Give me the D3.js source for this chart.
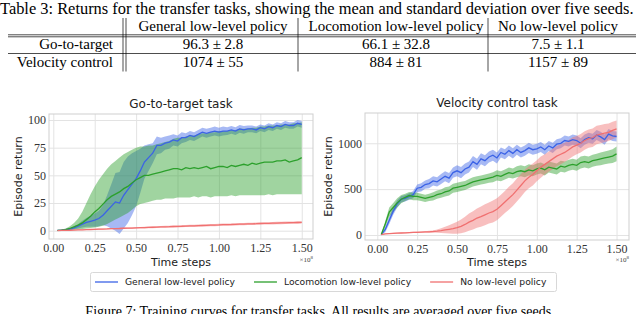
<!DOCTYPE html>
<html>
<head>
<meta charset="utf-8">
<script src="https://cdnjs.cloudflare.com/ajax/libs/d3/7.8.5/d3.min.js"></script>
<style>
body { margin:0; background:#fff; }
svg { display:block; }
.serif { font-family: "Liberation Serif", serif; }
.sans { font-family: "DejaVu Sans", sans-serif; }
</style>
</head>
<body>
<div id="chart-area"></div>
<script>
// Table 3 values
var tableCaption = "Table 3: Returns for the transfer tasks, showing the mean and standard deviation over five seeds.";
var policies = ["General low-level policy", "Locomotion low-level policy", "No low-level policy"];
var tasks = ["Go-to-target", "Velocity control"];
var tableValues = [
	["96.3 \u00b1 2.8", "66.1 \u00b1 32.8", "7.5 \u00b1 1.1"],
	["1074 \u00b1 55", "884 \u00b1 81", "1157 \u00b1 89"]
];

// training steps (x 1e8)
var steps = [0.025,0.05,0.075,0.1,0.125,0.15,0.175,0.2,0.225,0.25,
	0.275,0.3,0.325,0.35,0.375,0.4,0.425,0.45,0.475,0.5,
	0.525,0.55,0.575,0.6,0.625,0.65,0.675,0.7,0.725,0.75,
	0.775,0.8,0.825,0.85,0.875,0.9,0.925,0.95,0.975,1.0,
	1.025,1.05,1.075,1.1,1.125,1.15,1.175,1.2,1.225,1.25,
	1.275,1.3,1.325,1.35,1.375,1.4,1.425,1.45,1.475,1.5];

// Go-to-target task
var gttGeneral = [0.3,0.5,1.0,1.5,2.5,4,6,7.5,8.5,9.5,
	11,14,18,22,26,25,32,37,42,47,
	54,62,66,70,77,77,79,80,82,81,
	84,84,86,85,87,89,88,89,90,89,
	90,90,91,90,92,91,92,92,91,93,
	92,94,93,95,94,96,95,95,97,96];
var gttGeneralStd = [0.3,0.5,0.7,1,1.5,2,3,4,5,6,
	7,9,14,20,26,28,30,30,28,25,
	20,15,12,9,8,7,6,6,5,5,
	5,4,4,4,4,4,4,4,4,4,
	4,3.5,3.5,3.5,3.5,3.5,3,3,3,3,
	3,3,3,3,3,3,3,3,3,3];
var gttLoco = [0.3,0.5,1,2,3.5,5,7,10,13,17,
	20,24,28,31,33,35,38,40,43,46,
	48,50,50,51,52,53,54,55,56,56,
	55,57,56,57,56,57,58,56,57,58,
	58,57,59,58,59,60,59,61,60,61,
	62,62,62,63,63,64,62,63,64,66];
// the locomotion band is lopsided, so keep its edges
var gttLocoLow = [0,0,0.3,0.5,0.8,1,1.5,2,2.5,3,
	3.5,4.5,6,8,10,12,14,16,19,22,
	24,25,26,27,28,28,29,29,29,30,
	30,30,30,31,30,31,31,30,31,31,
	31,31,32,31,32,32,32,32,32,32,
	32,33,32,33,33,33,33,33,33,33];
var gttLocoHigh = [0.6,1,2,4,7,11,17,25,33,40,
	46,51,56,60,63,66,69,71,73,75,
	76,76,77,77,78,79,80,81,83,84,
	84,85,86,86,87,88,88,89,89,90,
	90,90,91,91,92,92,92,93,93,94,
	94,95,95,95,96,96,96,97,97,98];
var gttNone = [0.1,0.2,0.3,0.4,0.6,0.7,0.8,1.0,1.1,1.2,
	1.4,1.5,1.6,1.8,1.9,2.0,2.2,2.3,2.4,2.6,
	2.7,2.8,3.0,3.1,3.2,3.4,3.5,3.6,3.8,3.9,
	4.0,4.2,4.3,4.4,4.6,4.7,4.8,5.0,5.1,5.2,
	5.4,5.5,5.6,5.8,5.9,6.0,6.1,6.2,6.3,6.5,
	6.6,6.7,6.8,6.9,7.0,7.1,7.2,7.3,7.4,7.5];
var gttNoneStd = [0.1,0.2,0.2,0.3,0.3,0.3,0.4,0.4,0.4,0.5,
	0.5,0.5,0.6,0.6,0.6,0.6,0.7,0.7,0.7,0.7,
	0.7,0.8,0.8,0.8,0.8,0.8,0.9,0.9,0.9,0.9,
	0.9,0.9,1,1,1,1,1,1,1,1,
	1,1,1,1,1,1,1,1,1,1,
	1,1,1.1,1.1,1.1,1.1,1.1,1.1,1.1,1.1];

// Velocity control task
var velGeneral = [5,60,160,260,340,390,400,420,440,510,
	520,550,560,590,580,610,640,620,680,700,
	680,720,740,800,770,830,810,850,870,840,
	900,880,920,890,930,900,920,950,930,940,
	960,930,970,950,990,1000,1030,1020,1040,1030,
	1000,1040,1060,1050,1090,1070,1040,1100,1080,1074];
var velGeneralStd = [3,30,40,40,40,35,35,35,40,40,
	45,45,50,50,50,55,55,55,55,60,
	60,60,60,60,60,60,60,60,60,60,
	55,55,55,55,55,55,55,55,55,55,
	55,55,55,55,55,55,55,55,55,55,
	55,55,55,55,55,55,55,55,55,55];
var velLoco = [5,120,250,300,350,390,410,430,420,420,
	410,400,410,420,440,450,470,480,510,520,
	530,540,560,580,590,600,610,620,630,650,
	640,660,680,670,690,700,690,710,700,720,
	730,710,740,730,720,750,740,760,770,760,
	790,800,790,810,820,830,840,850,860,884];
var velLocoStd = [3,30,50,50,50,45,40,40,40,40,
	40,40,40,45,45,45,50,50,50,50,
	50,50,50,50,50,50,50,50,55,55,
	55,55,55,55,60,60,60,60,60,60,
	60,60,60,60,60,60,60,60,60,60,
	65,65,65,65,65,70,70,70,75,80];
var velNone = [5,12,15,18,20,22,24,26,28,29,
	31,33,35,38,42,48,55,62,70,80,
	95,115,140,160,185,200,220,240,255,280,
	320,360,400,440,490,540,590,630,660,700,
	740,770,800,830,860,880,900,930,960,980,
	1000,1030,1050,1060,1090,1100,1110,1120,1140,1157];
var velNoneStd = [3,5,5,6,6,6,7,7,7,8,
	8,9,10,12,18,25,35,45,55,65,
	75,85,95,100,105,110,115,115,120,120,
	120,120,125,125,125,125,120,120,120,115,
	115,110,110,110,110,110,105,105,105,100,
	100,100,100,100,100,100,100,95,95,90];

var xTicks = [0, 0.25, 0.5, 0.75, 1.0, 1.25, 1.5];
var gttTicks = [0, 25, 50, 75, 100];
var velTicks = [0, 500, 1000];

var colors = ["#3b63e6", "#2ca02c", "#f07070"];

var svg = d3.select("#chart-area")
	.append("svg")
		.attr("width", 640)
		.attr("height", 314);

// ---- table ----
var cap = svg.append("text")
	.attr("class", "serif")
	.attr("x", 0)
	.attr("y", 13.6)
	.style("font-size", "14.5px")
	.attr("fill", "#000")
	.text(tableCaption);
var capW = cap.node().getComputedTextLength();
cap.style("font-size", (14.5 * 634 / capW) + "px");

var colX = [213, 396, 558];
var rowY = [48.5, 66.5];
var tbl = svg.append("g")
	.attr("class", "serif")
	.style("font-size", "15px")
	.attr("fill", "#000");

tbl.selectAll(".hdr").data(policies).enter().append("text")
	.attr("x", function(d, i){ return colX[i]; })
	.attr("y", 30.5)
	.attr("text-anchor", "middle")
	.text(function(d){ return d; });

tbl.selectAll(".task").data(tasks).enter().append("text")
	.attr("x", 113)
	.attr("y", function(d, i){ return rowY[i]; })
	.attr("text-anchor", "end")
	.text(function(d){ return d; });

tableValues.forEach(function(row, r){
	tbl.selectAll(".v" + r).data(row).enter().append("text")
		.attr("x", function(d, i){ return colX[i]; })
		.attr("y", rowY[r])
		.attr("text-anchor", "middle")
		.text(function(d){ return d; });
});

var rule = "#000";
[123, 126, 298, 488].forEach(function(xv){
	svg.append("line").attr("x1", xv).attr("x2", xv).attr("y1", 18).attr("y2", 71.5)
		.attr("stroke", rule).attr("stroke-width", 0.7);
});
[34.8, 36.8, 53.5].forEach(function(yv){
	svg.append("line").attr("x1", 8).attr("x2", 636).attr("y1", yv).attr("y2", yv)
		.attr("stroke", rule).attr("stroke-width", 0.7);
});

// ---- panels ----
function drawPanel(cfg) {
	var x = d3.scaleLinear().domain(cfg.xDomain).range([cfg.left, cfg.right]);
	var y = d3.scaleLinear().domain(cfg.yDomain).range([cfg.bottom, cfg.top]);
	var g = svg.append("g");
	var h = cfg.bottom - cfg.top, w = cfg.right - cfg.left;

	var xAxisGroup = g.append("g")
		.attr("transform", "translate(0," + cfg.bottom + ")")
		.call(d3.axisBottom(x).tickValues(xTicks).tickSize(-h).tickPadding(4)
			.tickFormat(d3.format(".2f")));
	var yAxisGroup = g.append("g")
		.attr("transform", "translate(" + cfg.left + ",0)")
		.call(d3.axisLeft(y).tickValues(cfg.yTicks).tickSize(-w).tickPadding(3)
			.tickFormat(d3.format("d")));
	[xAxisGroup, yAxisGroup].forEach(function(a){
		a.attr("font-family", null).attr("font-size", null);
		a.select(".domain").remove();
		a.selectAll(".tick line").attr("stroke", "#e3e3e3").attr("stroke-width", 1);
		a.selectAll(".tick text")
			.attr("class", "serif")
			.style("font-size", "12px")
			.attr("fill", "#333");
	});

	var bands = g.append("g");
	var lines = g.append("g");
	cfg.series.forEach(function(s){
		var pts = steps.map(function(t, i){
			return {
				t: t, m: s.mean[i],
				lo: s.low ? s.low[i] : s.mean[i] - s.std[i],
				hi: s.high ? s.high[i] : s.mean[i] + s.std[i]
			};
		});
		var area = d3.area()
			.x(function(d){ return x(d.t); })
			.y0(function(d){ return y(d.lo); })
			.y1(function(d){ return y(d.hi); });
		bands.append("path")
			.attr("d", area(pts))
			.attr("fill", s.color)
			.attr("fill-opacity", 0.45);
		var line = d3.line()
			.x(function(d){ return x(d.t); })
			.y(function(d){ return y(d.m); });
		lines.append("path")
			.attr("d", line(pts))
			.attr("fill", "none")
			.attr("stroke", s.color)
			.attr("stroke-width", 1.3);
	});

	g.append("rect")
		.attr("x", cfg.left).attr("y", cfg.top)
		.attr("width", w).attr("height", h)
		.attr("fill", "none")
		.attr("stroke", "#cfcfcf")
		.attr("stroke-width", 1);

	g.append("text")
		.attr("class", "sans")
		.attr("x", (cfg.left + cfg.right) / 2)
		.attr("y", cfg.top - 6)
		.attr("text-anchor", "middle")
		.style("font-size", "12px")
		.attr("fill", "#222")
		.text(cfg.title);

	g.append("text")
		.attr("class", "sans")
		.attr("x", cfg.labelX)
		.attr("y", (cfg.top + cfg.bottom) / 2)
		.attr("transform", "rotate(-90," + cfg.labelX + "," + ((cfg.top + cfg.bottom) / 2) + ")")
		.attr("text-anchor", "middle")
		.attr("dominant-baseline", "central")
		.style("font-size", "11px")
		.attr("fill", "#222")
		.text("Episode return");

	g.append("text")
		.attr("class", "sans")
		.attr("x", (cfg.left + cfg.right) / 2)
		.attr("y", 266)
		.attr("text-anchor", "middle")
		.style("font-size", "11px")
		.attr("fill", "#222")
		.text("Time steps");

	var sc = g.append("text")
		.attr("class", "serif")
		.attr("x", cfg.right)
		.attr("y", 262)
		.attr("text-anchor", "end")
		.style("font-size", "7px")
		.attr("fill", "#444");
	sc.append("tspan").text("\u00d710");
	sc.append("tspan").style("font-size", "5px").attr("dy", -3).text("8");
}

drawPanel({
	title: "Go-to-target task",
	left: 49, right: 313, top: 114, bottom: 239,
	xDomain: [-0.026, 1.568], yDomain: [-7.5, 105.4],
	yTicks: gttTicks, labelX: 18,
	series: [
		{ mean: gttGeneral, std: gttGeneralStd, color: colors[0] },
		{ mean: gttLoco, low: gttLocoLow, high: gttLocoHigh, color: colors[1] },
		{ mean: gttNone, std: gttNoneStd, color: colors[2] }
	]
});

drawPanel({
	title: "Velocity control task",
	left: 365, right: 629, top: 113, bottom: 240,
	xDomain: [-0.077, 1.578], yDomain: [-54.5, 1330],
	yTicks: velTicks, labelX: 328,
	series: [
		{ mean: velGeneral, std: velGeneralStd, color: colors[0] },
		{ mean: velLoco, std: velLocoStd, color: colors[1] },
		{ mean: velNone, std: velNoneStd, color: colors[2] }
	]
});

// ---- legend ----
var leg = svg.append("g");
leg.append("rect")
	.attr("x", 90.5).attr("y", 272.5)
	.attr("width", 466).attr("height", 19)
	.attr("rx", 2)
	.attr("fill", "#fff")
	.attr("stroke", "#d8d8d8");
var lx = 95;
policies.forEach(function(p, i){
	leg.append("line")
		.attr("x1", lx).attr("x2", lx + 23)
		.attr("y1", 282).attr("y2", 282)
		.attr("stroke", colors[i]).attr("stroke-width", 1.3);
	var t = leg.append("text")
		.attr("class", "sans")
		.attr("x", lx + 30)
		.attr("y", 285.3)
		.style("font-size", "9.2px")
		.attr("fill", "#222")
		.text(p);
	lx = lx + 30 + t.node().getComputedTextLength() + 19;
});

// ---- figure caption (cut off at the bottom edge, as in the page) ----
svg.append("text")
	.attr("class", "serif")
	.attr("x", 320)
	.attr("y", 316)
	.attr("text-anchor", "middle")
	.style("font-size", "14px")
	.attr("fill", "#000")
	.text("Figure 7: Training curves for transfer tasks. All results are averaged over five seeds.");
</script>
</body>
</html>
